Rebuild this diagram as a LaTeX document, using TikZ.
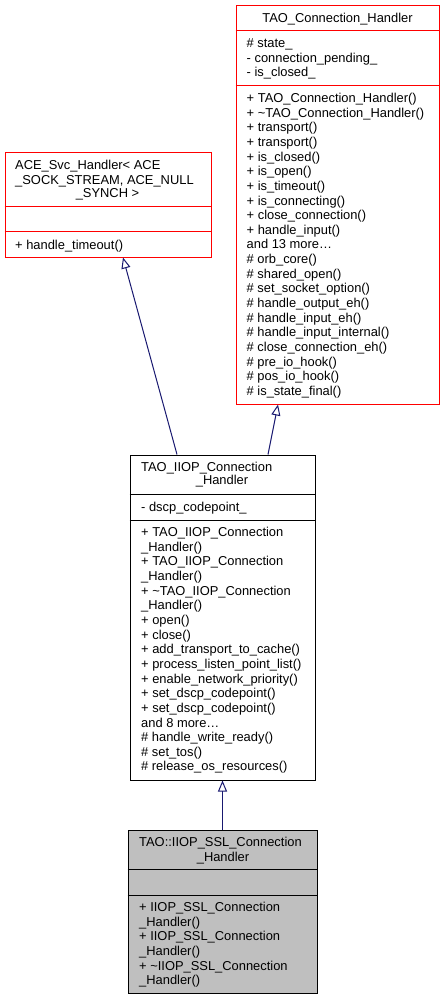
\documentclass[tikz,border=0pt]{standalone}
\usepackage{fontspec}
\setmainfont{Liberation Sans}
\usetikzlibrary{arrows.meta}
\definecolor{edgeblue}{HTML}{191970}
\definecolor{boxgray}{HTML}{BFBFBF}
\begin{document}
\begin{tikzpicture}[x=1pt,y=-1pt,
    classbox/.style={draw, line width=1pt, inner sep=0pt},
    member/.style={font=\fontsize{12.9}{14.65}\selectfont, inner sep=0pt, align=left, anchor=north west},
    headtext/.style={member, anchor=north},
    inherit/.style={edgeblue, line width=1pt, -{Triangle[open, length=11pt, width=9pt]}}]
    \useasboundingbox (0,0) rectangle (444,1000);
    % the four classes
    \node[classbox, red, minimum width=206, minimum height=104] (svc) at (108,205) {};
    \node[classbox, red, minimum width=203, minimum height=398] (tao) at (337.5,205) {};
    \node[classbox, minimum width=185, minimum height=325] (iiop) at (222.5,617.5) {};
    \node[classbox, fill=boxgray, minimum width=189, minimum height=163] (ssl) at (222.5,911.5) {};
    % compartments
    \draw[red, line width=1pt] (svc.west |- 0,207) -- (svc.east |- 0,207);
    \draw[red, line width=1pt] (svc.west |- 0,232) -- (svc.east |- 0,232);
    \draw[red, line width=1pt] (tao.west |- 0,31) -- (tao.east |- 0,31);
    \draw[red, line width=1pt] (tao.west |- 0,86) -- (tao.east |- 0,86);
    \draw[line width=1pt] (iiop.west |- 0,494) -- (iiop.east |- 0,494);
    \draw[line width=1pt] (iiop.west |- 0,520) -- (iiop.east |- 0,520);
    \draw[line width=1pt] (ssl.west |- 0,869) -- (ssl.east |- 0,869);
    \draw[line width=1pt] (ssl.west |- 0,895) -- (ssl.east |- 0,895);
    % ACE_Svc_Handler
    \node[member] (svc name) at (15,159.4) {\strut ACE\_Svc\_Handler< ACE\\\_SOCK\_STREAM, ACE\_NULL};
    \node[headtext] (svc name2) at (107.5,187.4) {\strut\_SYNCH >};
    \node[member] (svc ops) at (15,239.4) {\strut + handle\_timeout()};
    % TAO_Connection_Handler
    \node[headtext] (tao name) at (337.5,11.7) {\strut TAO\_Connection\_Handler};
    \node[member] (tao attrs) at (246.5,37) {\strut\# state\_\\- connection\_pending\_\\- is\_closed\_};
    \node[member] (tao ops) at (246.5,92) {\strut + TAO\_Connection\_Handler()\\
        + \textasciitilde TAO\_Connection\_Handler()\\+ transport()\\+ transport()\\
        + is\_closed()\\+ is\_open()\\+ is\_timeout()\\+ is\_connecting()\\
        + close\_connection()\\+ handle\_input()\\and 13 more\dots\\\# orb\_core()\\
        \# shared\_open()\\\# set\_socket\_option()\\\# handle\_output\_eh()\\
        \# handle\_input\_eh()\\\# handle\_input\_internal()\\\# close\_connection\_eh()\\
        \# pre\_io\_hook()\\\# pos\_io\_hook()\\\# is\_state\_final()};
    % TAO_IIOP_Connection_Handler
    \node[member] (iiop name) at (141,461.1) {\strut TAO\_IIOP\_Connection};
    \node[headtext] (iiop name2) at (222,474.4) {\strut\_Handler};
    \node[member] (iiop attrs) at (141,501.1) {\strut - dscp\_codepoint\_};
    \node[member] (iiop ops) at (141,526.1) {\strut + TAO\_IIOP\_Connection\\\_Handler()\\
        + TAO\_IIOP\_Connection\\\_Handler()\\+ \textasciitilde TAO\_IIOP\_Connection\\\_Handler()\\
        + open()\\+ close()\\+ add\_transport\_to\_cache()\\+ process\_listen\_point\_list()\\
        + enable\_network\_priority()\\+ set\_dscp\_codepoint()\\+ set\_dscp\_codepoint()\\
        and 8 more\dots\\\# handle\_write\_ready()\\\# set\_tos()\\\# release\_os\_resources()};
    % TAO::IIOP_SSL_Connection_Handler
    \node[member] (ssl name) at (139,836) {\strut TAO::IIOP\_SSL\_Connection};
    \node[headtext] (ssl name2) at (223,851) {\strut\_Handler};
    \node[member] (ssl ops) at (139,901) {\strut + IIOP\_SSL\_Connection\\\_Handler()\\
        + IIOP\_SSL\_Connection\\\_Handler()\\+ \textasciitilde IIOP\_SSL\_Connection\\\_Handler()};
    % inheritance
    \draw[inherit] ([xshift=-45.5pt]iiop.north) -- ([xshift=15pt]svc.south);
    \draw[inherit] ([xshift=45.5pt]iiop.north) -- ([xshift=-59.5pt]tao.south);
    \draw[inherit] (ssl.north) -- (iiop.south);
\end{tikzpicture}
\end{document}
